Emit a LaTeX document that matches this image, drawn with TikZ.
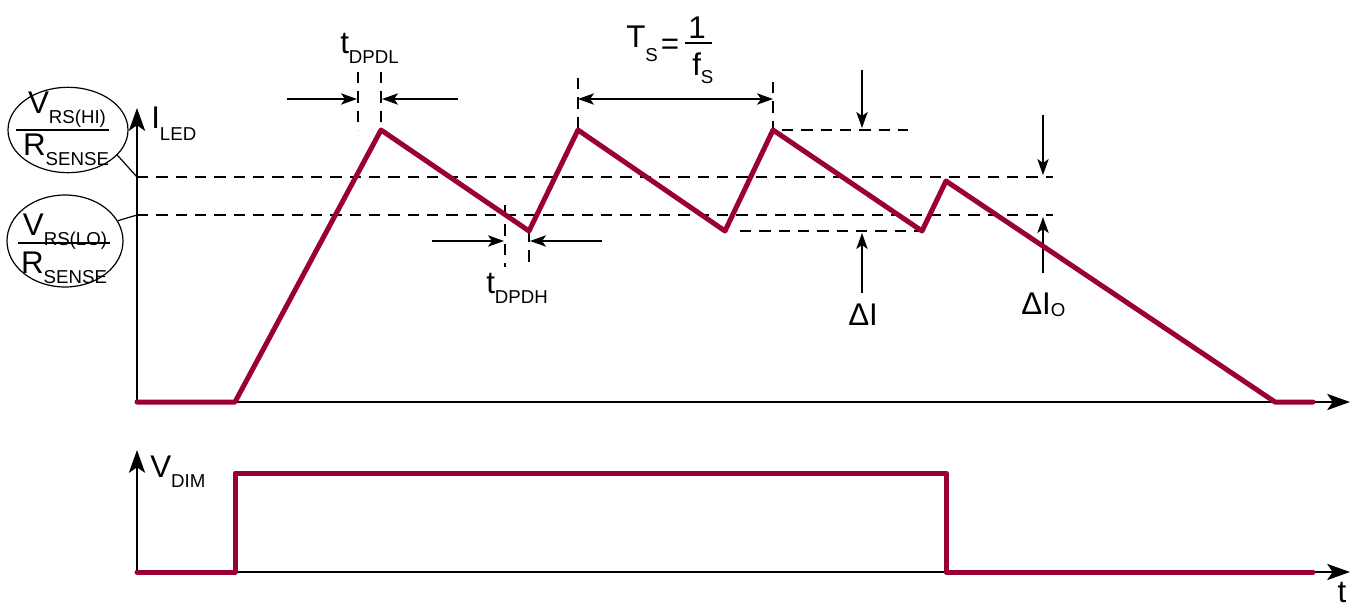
\documentclass[tikz,border=0pt]{standalone}
\usepackage{fontspec}
\setmainfont{Liberation Sans}
\usetikzlibrary{arrows.meta,shapes.geometric}
\definecolor{wavecol}{RGB}{155,0,51}
\newcommand\sbs[2][-7.5pt]{\raisebox{#1}{\fontsize{14}{16}\selectfont #2}}
\begin{document}
\begin{tikzpicture}[x=0.75pt,y=-0.75pt,
  font=\fontsize{23.5}{27}\selectfont,
  wave/.style={line width=3.75pt,draw=wavecol,line join=round,line cap=round},
  axisline/.style={line width=2.2pt,-{Stealth[length=17pt,width=12pt,inset=4pt]}},
  dimarrow/.style={line width=1.1pt,-{Stealth[length=12pt,width=8.5pt,inset=3pt]}},
  guide/.style={line width=1.1pt,dash pattern=on 8.5pt off 6pt},
  lbl/.style={inner sep=0,anchor=base west},
  oval/.style={draw,line width=0.9pt,ellipse,inner sep=0}]
\useasboundingbox (0,0) rectangle (1353,607);
% ---------- upper graph axes
\coordinate (o1) at (137,402);
\coordinate (ax1) at (1350,402);
\coordinate (ay1) at (137,108);
\draw[axisline] (o1) -- (ax1);
\draw[axisline] (o1) -- (ay1);
% level lines
\coordinate (hiL) at (137,177); \coordinate (hiR) at (1053,177);
\coordinate (loL) at (137,215); \coordinate (loR) at (1053,215);
\draw[guide] (hiL) -- (hiR);
\draw[guide] (loL) -- (loR);
% waveform points
\coordinate (w0) at (137,402);
\coordinate (w1) at (235,402);
\coordinate (p1) at (381,130);
\coordinate (v1) at (529,231);
\coordinate (p2) at (578,130);
\coordinate (v2) at (725,231);
\coordinate (p3) at (773,130);
\coordinate (v3) at (922,231);
\coordinate (p4) at (946,181);
\coordinate (w9) at (1275,402);
\coordinate (w10) at (1313,402);
% guide lines for ripple
\coordinate (pkR) at (908,130); \coordinate (pkL) at (782,130);
\coordinate (vlL) at (740,231);
\draw[guide] (pkL) -- (pkR);
\draw[guide] (vlL) -- (v3);
% tDPDL
\coordinate (dl1t) at (358,72); \coordinate (dl1b) at (358,130);
\coordinate (dl2t) at (381,72);
\draw[guide] (dl1t) -- (dl1b);
\draw[guide] (dl2t) -- (p1);
\coordinate (dlA) at (287,99); \coordinate (dlAe) at (357,99);
\coordinate (dlB) at (458,99); \coordinate (dlBe) at (382,99);
\draw[dimarrow] (dlA) -- (dlAe);
\draw[dimarrow] (dlB) -- (dlBe);
\node[lbl] (tdpdl) at (340,53) {t\sbs{DPDL}};
% tDPDH
\coordinate (dh1t) at (505,205); \coordinate (dh1b) at (505,267);
\coordinate (dh2b) at (529,267);
\draw[guide] (dh1t) -- (dh1b);
\draw[guide] (v1) -- (dh2b);
\coordinate (dhA) at (432,241); \coordinate (dhAe) at (504,241);
\coordinate (dhB) at (602,241); \coordinate (dhBe) at (530,241);
\draw[dimarrow] (dhA) -- (dhAe);
\draw[dimarrow] (dhB) -- (dhBe);
\node[lbl] (tdpdh) at (486,293) {t\sbs[-8pt]{DPDH}};
% Ts
\coordinate (ts1t) at (578,78);
\coordinate (ts2t) at (773,82);
\draw[guide] (ts1t) -- (p2);
\draw[guide] (ts2t) -- (p3);
\coordinate (tsA) at (578,99); \coordinate (tsB) at (773,99);
\draw[dimarrow,{Stealth[length=12pt,width=8.5pt,inset=3pt]}-{Stealth[length=12pt,width=8.5pt,inset=3pt]}] (tsA) -- (tsB);
\node[lbl] (tsT) at (626,47) {T\sbs[-11pt]{S}};
\node[inner sep=0,anchor=base] (tseq) at (670,54) {=};
\node[inner sep=0,anchor=base] (tsone) at (697,38) {1};
\coordinate (barL) at (685,43); \coordinate (barR) at (712,43);
\draw[line width=1.6pt] (barL) -- (barR);
\node[lbl] (tsf) at (692,75) {f\sbs[-6pt]{S}};
% Delta I
\coordinate (diA) at (862,70); \coordinate (diAe) at (862,128);
\coordinate (diB) at (862,293); \coordinate (diBe) at (862,233);
\draw[dimarrow] (diA) -- (diAe);
\draw[dimarrow] (diB) -- (diBe);
\node[lbl] (dil) at (848,325) {ΔI};
% Delta I_O
\coordinate (doA) at (1043,115); \coordinate (doAe) at (1043,175);
\coordinate (doB) at (1043,273); \coordinate (doBe) at (1043,217);
\draw[dimarrow] (doA) -- (doAe);
\draw[dimarrow] (doB) -- (doBe);
\node[lbl] (dol) at (1021,314) {ΔI\sbs[-2pt]{O}};
% waveform
\draw[wave] (w0) -- (w1) -- (p1) -- (v1) -- (p2) -- (v2) -- (p3) -- (v3) -- (p4) -- (w9) -- (w10);
\node[lbl] (iled) at (151,128) {I\sbs[-9pt]{LED}};
% ellipses
\node[oval,minimum width=90pt,minimum height=64pt] (e1) at (68,130) {};
\node[oval,minimum width=87pt,minimum height=69pt] (e2) at (65,241) {};
\node[inner sep=0,anchor=base] (n1) at (67,113) {V\sbs{RS(HI)}};
\node[inner sep=0,anchor=base] (d1) at (66,155) {R\sbs{SENSE}};
\coordinate (b1L) at (16,130); \coordinate (b1R) at (109,130);
\draw[line width=1.4pt] (b1L) -- (b1R);
\node[inner sep=0,anchor=base] (n2) at (65,235) {V\sbs{RS(LO)}};
\node[inner sep=0,anchor=base] (d2) at (64,273) {R\sbs{SENSE}};
\coordinate (b2L) at (18,243); \coordinate (b2R) at (110,243);
\draw[line width=1.4pt] (b2L) -- (b2R);
\draw[line width=0.9pt] (e1.-27) -- (hiL);
\draw[line width=0.9pt] (e2.21) -- (loL);
% ---------- lower graph
\coordinate (o2) at (137,572);
\coordinate (ax2) at (1350,572);
\coordinate (ay2) at (137,450);
\draw[axisline] (o2) -- (ax2);
\draw[axisline] (o2) -- (ay2);
\coordinate (q0) at (137,572);
\coordinate (q1) at (235,572);
\coordinate (q2) at (235,473);
\coordinate (q3) at (946,473);
\coordinate (q4) at (946,572);
\coordinate (q5) at (1313,572);
\draw[wave] (q0) -- (q1) -- (q2) -- (q3) -- (q4) -- (q5);
\node[lbl] (vdim) at (150,477) {V\sbs{DIM}};
\node[inner sep=0,anchor=base] (tl) at (1342,602) {t};
\end{tikzpicture}
\end{document}
